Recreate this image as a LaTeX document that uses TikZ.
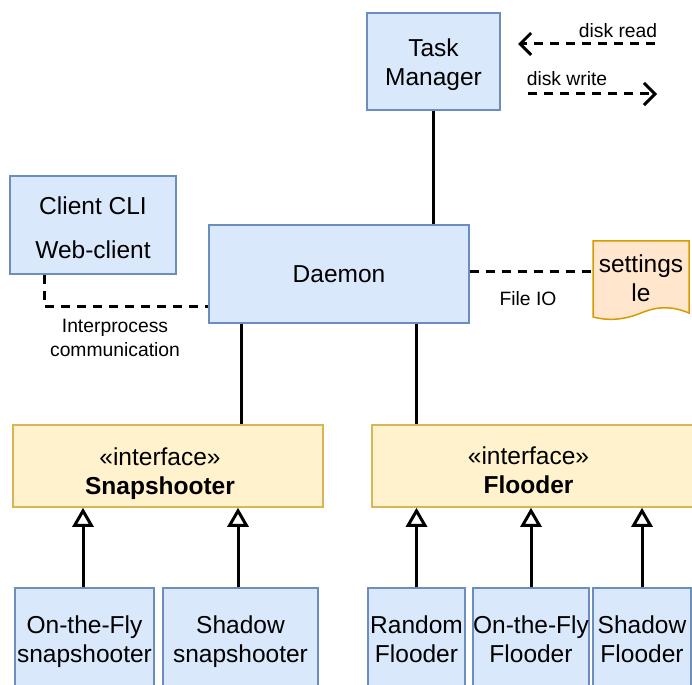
\documentclass[tikz,border=0pt]{standalone}
\usepackage{fontspec}
\setmainfont{Liberation Sans}
\usetikzlibrary{arrows.meta}

\definecolor{boxblue}{HTML}{DAE8FC}
\definecolor{lineblue}{HTML}{6C8EBF}
\definecolor{boxyellow}{HTML}{FFF2CC}
\definecolor{lineyellow}{HTML}{D6B656}
\definecolor{boxorange}{HTML}{FFE6CC}
\definecolor{lineorange}{HTML}{D79B00}

\tikzset{
  block/.style={draw=lineblue, fill=boxblue, line width=1.5pt, inner sep=0pt, align=center, font=\fontsize{24.5}{29}\selectfont},
  iface/.style={draw=lineyellow, fill=boxyellow, line width=1.5pt, inner sep=0pt},
  label text/.style={align=center, inner sep=0pt, font=\fontsize{24.5}{29}\selectfont},
  note/.style={align=center, inner sep=0pt, font=\fontsize{19.3}{24}\selectfont},
  link/.style={line width=3pt},
  dashlink/.style={line width=3pt, dash pattern=on 9pt off 7pt},
  barb/.style={-{Straight Barb[length=11pt, width=22pt]}},
  impl/.style={link, -{Triangle[open, length=19pt, width=21pt, fill=white]}},
}

\begin{document}
\begin{tikzpicture}[x=1pt, y=-1pt]
\useasboundingbox (0,0) rectangle (692,684);
\clip (0,0) rectangle (692,684);

% top row
\node[block, minimum width=133pt, minimum height=97pt] (tm) at (433.5,61.5) {\rule{0pt}{24pt}Task\\Manager};
\node[block, minimum width=166pt, minimum height=98pt] (cli) at (93,225) {\rule{0pt}{24pt}Client CLI\\[15pt]Web-client};
\node[block, minimum width=260pt, minimum height=98pt] (daemon) at (339,274) {Daemon};

% settings file (document shape)
\filldraw[draw=lineorange, fill=boxorange, line width=1.5pt] (593,241) -- (689,241) -- (689,313)
  .. controls (672,306) and (658,306) .. (641,313)
  .. controls (624,320) and (608,321) .. (593,317) -- cycle;
\node[label text, minimum width=96pt, minimum height=77pt] (settings) at (641,278.5) {settings\\le};

% interfaces
\node[iface, minimum width=310pt, minimum height=82pt] (snap) at (168,466) {};
\node[label text] (snaptxt) at (160,474) {«interface»\\\textbf{Snapshooter}};
\node[iface, minimum width=330pt, minimum height=82pt] (flood) at (537,466) {};
\node[label text] (floodtxt) at (528.5,470) {«interface»\\\textbf{Flooder}};

% implementations
\node[block, minimum width=139pt, minimum height=102pt] (flysnap) at (84.5,639) {\rule{0pt}{24pt}On-the-Fly\\snapshooter};
\node[block, minimum width=155pt, minimum height=102pt] (shadowsnap) at (240.5,639) {\rule{0pt}{24pt}Shadow\\snapshooter};
\node[block, minimum width=97pt, minimum height=102pt] (randflood) at (416.5,639) {\rule{0pt}{18pt}Random\\Flooder};
\node[block, minimum width=110pt, minimum height=102pt] (flyflood) at (531,639) {\rule{0pt}{18pt}On-the-Fly\\Flooder};
\node[block, minimum width=98pt, minimum height=102pt] (shadowflood) at (642,639) {\rule{0pt}{18pt}Shadow\\Flooder};

% connectors
\draw[link] (tm.south) -- (tm.south |- daemon.north);
\draw[link] (241,0 |- daemon.south) -- (241,0 |- snap.north);
\draw[link] (416,0 |- daemon.south) -- (416,0 |- flood.north);
\draw[dashlink] (44,0 |- cli.south) |- (daemon.west |- 0,306);
\draw[dashlink] (daemon.east |- 0,271) -- (settings.west |- 0,271);
\node[note] (ipc) at (115,338) {Interprocess\\communication};
\node[note] (fileio) at (528,299) {File IO};

\draw[impl] (flysnap.north -| 83,0) -- (83,0 |- snap.south);
\draw[impl] (shadowsnap.north -| 238,0) -- (238,0 |- snap.south);
\draw[impl] (randflood.north) -- (randflood.north |- flood.south);
\draw[impl] (flyflood.north) -- (flyflood.north |- flood.south);
\draw[impl] (shadowflood.north) -- (shadowflood.north |- flood.south);

% legend
\coordinate (rdfrom) at (655,44);
\coordinate (rdto) at (518,44);
\coordinate (wrfrom) at (528,94);
\coordinate (wrto) at (657,94);
\draw[dashlink, barb] (rdfrom) -- (rdto);
\draw[dashlink, barb] (wrfrom) -- (wrto);
\node[note] (rdlbl) at (618,31) {disk read};
\node[note] (wrlbl) at (567,79) {disk write};
\end{tikzpicture}
\end{document}
